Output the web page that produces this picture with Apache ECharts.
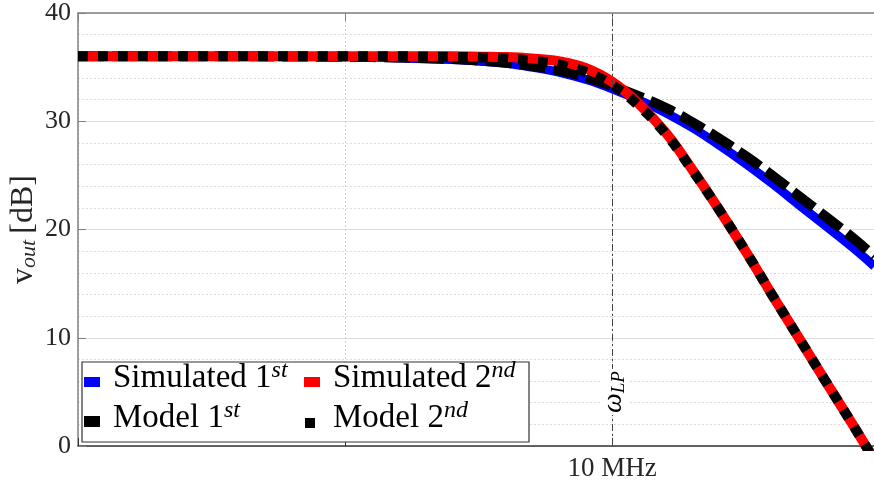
<!DOCTYPE html>
<html>
<head>
<meta charset="utf-8">
<script src="https://cdn.jsdelivr.net/npm/echarts@6/dist/echarts.min.js"></script>
<style>
  html, body { margin: 0; padding: 0; background: #ffffff; }
  #chart { width: 874px; height: 486px; }
</style>
</head>
<body>
<div id="chart"></div>
<script>
// Frequency samples (Hz) and the output level (dB) of each response.
const freqHz = [1e5, 3e5, 1e6, 1.6e6, 2.5e6, 3.2e6, 4e6, 5e6, 6.3e6, 8e6, 1e7,
                1.25e7, 1.6e7, 2e7, 2.5e7, 3.2e7, 4e7, 5e7, 6.3e7, 8e7, 9.6e7];
const simulatedFirst = [36.0, 36.0, 35.95, 35.85, 35.7, 35.55, 35.35, 35.0, 34.55, 33.85, 33.0,
                        32.0, 30.75, 29.4, 27.85, 26.0, 24.2, 22.3, 20.35, 18.3, 16.6];
const modelFirst = [36.0, 36.0, 35.95, 35.88, 35.75, 35.6, 35.4, 35.1, 34.7, 34.05, 33.25,
                    32.35, 31.2, 29.9, 28.45, 26.7, 24.95, 23.1, 21.2, 19.2, 17.5];
const simulatedSecond = [36.0, 36.0, 36.0, 36.0, 36.0, 35.97, 35.93, 35.8, 35.55, 34.9, 33.65,
                         31.7, 28.85, 25.5, 21.95, 17.8, 13.85, 10.0, 6.0, 1.9, -1.3];
const modelSecond = [36.0, 36.0, 36.0, 36.0, 35.95, 35.9, 35.8, 35.6, 35.25, 34.55, 33.35,
                     31.5, 28.75, 25.45, 21.95, 17.8, 13.85, 10.0, 6.0, 1.9, -1.3];

// Axis settings and labels
const yTicks = [0, 10, 20, 30, 40];
const freqRange = [1e5, 9.57e7];
const labelledFreq = 1e7;
const labelledFreqText = '10 MHz';
const cornerFreq = 1e7;
const seriesNames = ['Simulated 1st', 'Model 1st', 'Simulated 2nd', 'Model 2nd'];

const SERIF = '"Liberation Serif", "DejaVu Serif", serif';

const pairs = (vals) => freqHz.map((f, i) => [f, vals[i]]);

const chart = echarts.init(document.getElementById('chart'), null, { renderer: 'canvas' });

const option = {
  animation: false,
  backgroundColor: '#ffffff',
  grid: { left: 78, right: 0, top: 13, bottom: 40, containLabel: false, outerBoundsMode: 'none' },
  xAxis: [
    {
      type: 'log',
      logBase: 10,
      min: freqRange[0],
      max: freqRange[1],
      position: 'bottom',
      axisLine: { show: true, lineStyle: { color: '#333333', width: 1.5 } },
      axisTick: { show: true, inside: true, length: 8, lineStyle: { color: '#333333', width: 1 } },
      minorTick: { show: false },
      axisLabel: {
        margin: 9,
        fontFamily: SERIF,
        fontSize: 27,
        color: '#262626',
        formatter: (v) => (Math.abs(Math.log10(v) - Math.log10(labelledFreq)) < 1e-6 ? labelledFreqText : '')
      },
      splitLine: { show: true, lineStyle: { color: '#d2d2d2', type: [2, 2], width: 1 } }
    },
    {
      type: 'log',
      logBase: 10,
      min: freqRange[0],
      max: freqRange[1],
      position: 'top',
      axisLine: { show: true, lineStyle: { color: '#808080', width: 1.5 } },
      axisTick: { show: true, inside: true, length: 8, lineStyle: { color: '#808080', width: 1 } },
      axisLabel: { show: false },
      splitLine: { show: false }
    }
  ],
  yAxis: {
    type: 'value',
    min: yTicks[0],
    max: yTicks[yTicks.length - 1],
    interval: yTicks[1] - yTicks[0],
    axisLine: { show: true, lineStyle: { color: '#808080', width: 1.5 } },
    axisTick: { show: true, inside: true, length: 8, lineStyle: { color: '#808080', width: 1 } },
    axisLabel: { margin: 7, fontFamily: SERIF, fontSize: 26, color: '#262626' },
    splitLine: { show: true, lineStyle: { color: '#dedede', width: 1 } },
    minorTick: { show: false, splitNumber: 5 },
    minorSplitLine: { show: true, lineStyle: { color: '#dcdcdc', type: [2, 2], width: 1 } },
    name: '{v|v}{o|out}  {d|[dB]}',
    nameLocation: 'middle',
    nameRotate: 90,
    nameGap: 38,
    nameMoveOverlap: false,
    nameTextStyle: {
      fontFamily: SERIF,
      color: '#262626',
      rich: {
        v: { fontFamily: SERIF, fontSize: 32, color: '#262626' },
        o: { fontFamily: SERIF, fontSize: 22, fontStyle: 'italic', color: '#262626', verticalAlign: 'bottom' },
        d: { fontFamily: SERIF, fontSize: 32, color: '#262626' }
      }
    }
  },
  series: [
    {
      name: seriesNames[0],
      type: 'line',
      data: pairs(simulatedFirst),
      showSymbol: false,
      smooth: 0.4,
      lineStyle: { color: '#0000ff', width: 9, cap: 'butt', join: 'round' },
      markLine: {
        silent: true,
        symbol: ['none', 'none'],
        label: { show: false },
        lineStyle: { color: '#444444', width: 1, type: [7, 3, 2, 3] },
        data: [{ xAxis: cornerFreq }]
      },
      z: 2
    },
    {
      name: seriesNames[1],
      type: 'line',
      data: pairs(modelFirst),
      showSymbol: false,
      smooth: 0.4,
      lineStyle: { color: '#000000', width: 10, type: [26, 8], cap: 'butt', join: 'round' },
      z: 3
    },
    {
      name: seriesNames[2],
      type: 'line',
      data: pairs(simulatedSecond),
      showSymbol: false,
      smooth: 0.4,
      lineStyle: { color: '#ff0000', width: 10, cap: 'butt', join: 'round' },
      z: 4
    },
    {
      name: seriesNames[3],
      type: 'line',
      data: pairs(modelSecond),
      showSymbol: false,
      smooth: 0.4,
      lineStyle: { color: '#000000', width: 10, type: [10, 10], cap: 'butt', join: 'round' },
      z: 5
    }
  ]
};

chart.setOption(option);

// Label of the corner-frequency marker, placed on the marker line.
const cornerX = chart.convertToPixel({ xAxisIndex: 0 }, cornerFreq);

// Legend entries: swatch colour and size, then the label with a superscript ordinal.
const legendRows = [
  { label: 'Simulated 1', sup: 'st', color: '#0000ff', sw: [84, 377, 16, 10], tx: [113, 377] },
  { label: 'Simulated 2', sup: 'nd', color: '#ff0000', sw: [304, 377, 16, 10], tx: [333, 377] },
  { label: 'Model 1', sup: 'st', color: '#000000', sw: [84, 416, 16, 11], tx: [113, 417] },
  { label: 'Model 2', sup: 'nd', color: '#000000', sw: [305, 418, 10, 10], tx: [333, 417] }
];

const legendRich = {
  m: { fontFamily: SERIF, fontSize: 33, color: '#000000', lineHeight: 36, verticalAlign: 'bottom' },
  s: { fontFamily: SERIF, fontSize: 24, fontStyle: 'italic', color: '#000000', verticalAlign: 'top' }
};

const graphics = [
  {
    type: 'rect',
    shape: { x: 82, y: 362, width: 447, height: 80 },
    style: { fill: '#ffffff', stroke: '#333333', lineWidth: 1.2 },
    z: 100
  }
];
legendRows.forEach((r) => {
  graphics.push({
    type: 'rect',
    shape: { x: r.sw[0], y: r.sw[1], width: r.sw[2], height: r.sw[3] },
    style: { fill: r.color },
    z: 101
  });
  graphics.push({
    type: 'text',
    x: r.tx[0],
    y: r.tx[1],
    style: {
      text: '{m|' + r.label + '}{s|' + r.sup + '}',
      rich: legendRich,
      align: 'left',
      verticalAlign: 'middle'
    },
    z: 101
  });
});
graphics.push({
  type: 'text',
  x: cornerX + 2,
  y: 392,
  rotation: Math.PI / 2,
  style: {
    text: '{w|ω}{l|LP}',
    rich: {
      w: { fontFamily: SERIF, fontSize: 28, fontStyle: 'italic', color: '#262626' },
      l: { fontFamily: SERIF, fontSize: 19, fontStyle: 'italic', color: '#262626', verticalAlign: 'bottom' }
    },
    align: 'center',
    verticalAlign: 'middle',
    backgroundColor: '#ffffff',
    padding: [0, 2]
  },
  z: 50
});

chart.setOption({ graphic: graphics });
</script>
</body>
</html>
